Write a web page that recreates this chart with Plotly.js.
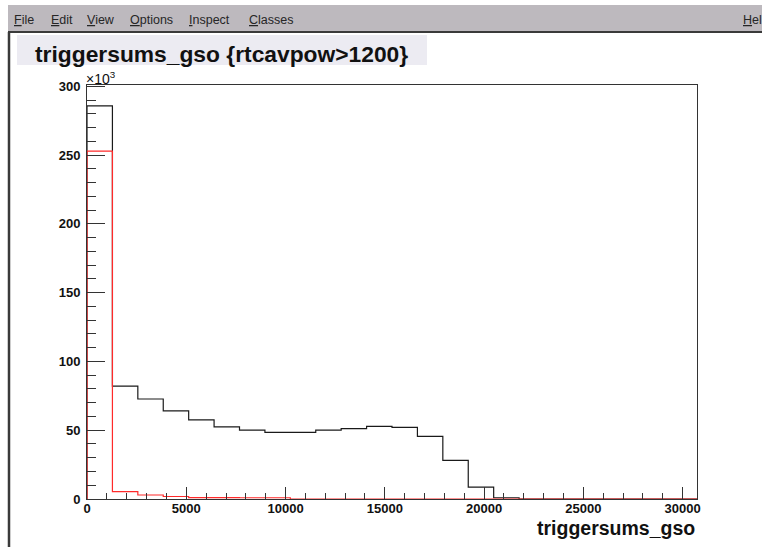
<!DOCTYPE html>
<html>
<head>
<meta charset="utf-8">
<script src="https://cdn.plot.ly/plotly-3.0.1.min.js"></script>
<style>
html,body{margin:0;padding:0;background:#ffffff;}
#chart{width:762px;height:547px;}
</style>
</head>
<body>
<div id="chart"></div>
<script>
// ---- data ----
const binEdges = [0,1280,2560,3840,5120,6400,7680,8960,10240,11520,12800,14080,15360,
                  16640,17920,19200,20480,21760,23040,24320,25600,26880,28160,29440,30720];
// counts in units of 10^3 (axis shows x10^3)
const allCountsK = [285.8,82.1,72.7,64.0,57.6,52.5,50.1,48.5,48.5,50.1,51.1,52.8,52.1,
                    45.6,28.1,8.7,0.9,0,0,0,0,0,0,0];
const cutCountsK = [252.9,5.3,2.9,1.8,0.95,0.95,0.9,0.9,0,0,0,0,0,
                    0,0,0,0,0,0,0,0,0,0,0];
const xTickVals = [0,5000,10000,15000,20000,25000,30000];
const xTickText = ["0","5000","10000","15000","20000","25000","30000"];
const yTickVals = [0,50,100,150,200,250,300];
const yTickText = ["0","50","100","150","200","250","300"];
const menuItems = ["File","Edit","View","Options","Inspect","Classes","Hel"];
const menuX = [13,50,86,129,188,248,742];
const titleText = "triggersums_gso {rtcavpow>1200}";
const xTitleText = "triggersums_gso";

// ---- geometry helpers (pixel -> paper) ----
const L = 87, R = 697, T = 85, B = 499;
function px(X){ return (X - L) / (R - L); }
function py(Y){ return (B - Y) / (B - T); }

function stepXY(edges, counts){
  const xs = [edges[0]].concat(edges);
  const ys = [0].concat(counts, [counts[counts.length-1]]);
  return {x: xs, y: ys};
}

const FONT = "Liberation Sans, Arial, Helvetica, sans-serif";

const sAll = stepXY(binEdges, allCountsK);
const sCut = stepXY(binEdges, cutCountsK);

const traces = [
  {type:'scatter', mode:'lines', x:sAll.x, y:sAll.y, line:{shape:'hv', color:'#1a1a1a', width:1.2},
   hoverinfo:'skip', showlegend:false, cliponaxis:true},
  {type:'scatter', mode:'lines', x:sCut.x, y:sCut.y, line:{shape:'hv', color:'#ff2a2a', width:1.2},
   hoverinfo:'skip', showlegend:false, cliponaxis:true}
];

const annotations = [];
menuItems.forEach(function(m, i){
  annotations.push({
    xref:'paper', yref:'paper', x:px(menuX[i]), y:py(12), xanchor:'left', yanchor:'top',
    text:'<span style="text-decoration:underline">' + m.charAt(0) + '</span>' + m.slice(1),
    showarrow:false, borderpad:0, font:{family:FONT, size:12.5, color:'#262626'}
  });
});
annotations.push({
  xref:'paper', yref:'paper', x:px(34), y:py(40), xanchor:'left', yanchor:'top',
  text:titleText, showarrow:false, borderpad:0,
  font:{family:FONT, size:22.8, color:'#111111', weight:'bold'}
});
annotations.push({
  xref:'paper', yref:'paper', x:px(85), y:py(68), xanchor:'left', yanchor:'top',
  text:'\u00d710<sup>3</sup>', showarrow:false, borderpad:0,
  font:{family:FONT, size:14, color:'#111111'}
});
annotations.push({
  xref:'paper', yref:'paper', x:px(696), y:py(515.5), xanchor:'right', yanchor:'top',
  text:xTitleText, showarrow:false, borderpad:0,
  font:{family:FONT, size:19.5, color:'#111111', weight:'bold'}
});

const shapes = [
  // menu bar
  {type:'rect', xref:'paper', yref:'paper', x0:px(8), x1:px(770), y0:py(32), y1:py(5),
   fillcolor:'#bdb9be', line:{width:0}, layer:'below'},
  {type:'line', xref:'paper', yref:'paper', x0:px(8), x1:px(770), y0:py(32), y1:py(32),
   line:{color:'#3a3a3a', width:2}},
  // left window border
  {type:'line', xref:'paper', yref:'paper', x0:px(9), x1:px(9), y0:py(32), y1:py(560),
   line:{color:'#3a3a3a', width:2.5}},
  // title box
  {type:'rect', xref:'paper', yref:'paper', x0:px(17), x1:px(427), y0:py(65), y1:py(35),
   fillcolor:'#ecebf2', line:{width:0}, layer:'below'}
];

const axisCommon = {
  showline:true, mirror:true, linecolor:'#333333', linewidth:1,
  showgrid:false, zeroline:false, ticks:'inside', tickcolor:'#333333', tickwidth:1,
  tickmode:'array', fixedrange:true
};

const layout = {
  width:762, height:547,
  margin:{l:L, r:762-R, t:T, b:547-B, pad:0},
  paper_bgcolor:'#ffffff', plot_bgcolor:'#ffffff',
  showlegend:false,
  xaxis: Object.assign({}, axisCommon, {
    range:[binEdges[0], binEdges[binEdges.length-1]],
    tickvals:xTickVals, ticktext:xTickText, ticklen:12,
    ticklabelstandoff:-3,
    tickfont:{family:FONT, size:13, color:'#111111', weight:'bold'},
    minor:{tickmode:'linear', tick0:0, dtick:1000, ticks:'inside', ticklen:6, tickcolor:'#333333', showgrid:false}
  }),
  yaxis: Object.assign({}, axisCommon, {
    range:[0, 301],
    tickvals:yTickVals, ticktext:yTickText, ticklen:18,
    ticklabelstandoff:3,
    tickfont:{family:FONT, size:13, color:'#111111', weight:'bold'},
    minor:{tickmode:'linear', tick0:0, dtick:10, ticks:'inside', ticklen:9, tickcolor:'#333333', showgrid:false}
  }),
  annotations:annotations,
  shapes:shapes
};

Plotly.newPlot('chart', traces, layout, {staticPlot:true, displayModeBar:false});
</script>
</body>
</html>
